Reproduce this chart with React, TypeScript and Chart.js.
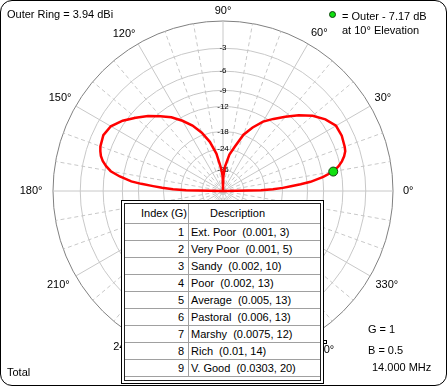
import React, { useEffect, useRef } from 'react';
import { Chart, registerables, RadialLinearScale } from 'chart.js';

Chart.register(...registerables);

// ARRL log radial scale: each 2 dB below the outer ring shrinks the radius by 0.89
class ArrlScale extends RadialLinearScale {
  static id = 'arrl';
  getDistanceFromCenterForValue(value: number) {
    if (value === null || value === undefined || isNaN(value)) return NaN;
    const att = Math.max(0, (this as any).max - value);
    return (this as any).drawingArea * Math.pow(0.89, att / 2);
  }
  getValueForDistanceFromCenter(distance: number) {
    if (!distance || distance <= 0) return (this as any).min;
    return (this as any).max + (2 * Math.log(distance / (this as any).drawingArea)) / Math.log(0.89) * -1;
  }
}
Chart.register(ArrlScale as any);

// ---- data ----
const outerRingDbi = 3.94;
const ringValues = [0, -3, -6, -9, -12, -18, -24, -36];
const angleLabelValues = [0, 30, 60, 90, 120, 150, 180, 210, 240, 270, 300, 330];

// elevation angle (deg) and field strength in dB relative to the outer ring
const elevations = [
  0, 1, 2, 3, 4, 5, 6, 8, 10, 12, 14, 16, 18, 20, 25, 30, 35, 40, 45, 50, 55, 60, 65, 70, 75, 80, 85, 88, 89, 90,
  91, 92, 95, 100, 105, 110, 115, 120, 125, 130, 135, 140, 145, 150, 155, 160, 162, 164, 166, 168, 170, 172, 174,
  175, 176, 177, 178, 179, 180,
];
const gainsDb = [
  -99, -25.7, -21.0, -17.9, -15.7, -13.4, -11.3, -8.9, -7.17, -6.27, -5.62, -5.14, -4.8, -4.67, -4.47, -4.54, -5.28,
  -6.41, -7.95, -9.63, -11.3, -12.9, -15.2, -17.9, -22.4, -26.2, -32.9, -40.6, -47.0, -99,
  -47.0, -40.6, -34.3, -25.7, -20.7, -17.3, -14.7, -12.7, -10.9, -9.54, -8.1, -6.86, -5.62, -4.67, -4.34, -4.54,
  -4.74, -5.0, -5.42, -6.05, -6.86, -8.4, -10.5, -12.5, -15.2, -17.6, -21.0, -26.2, -99,
];
const markerElevation = [10];
const markerGain = [-7.17];

const groundIndex = [1, 2, 3, 4, 5, 6, 7, 8, 9];
const groundDesc = [
  'Ext. Poor  (0.001, 3)',
  'Very Poor  (0.001, 5)',
  'Sandy  (0.002, 10)',
  'Poor  (0.002, 13)',
  'Average  (0.005, 13)',
  'Pastoral  (0.006, 13)',
  'Marshy  (0.0075, 12)',
  'Rich  (0.01, 14)',
  'V. Good  (0.0303, 20)',
];

// ---- radar index mapping (index 0 at top, clockwise, 1 deg per index) ----
const N = 360;
const elevOfIndex = (i: number) => (((90 - i) % 360) + 360) % 360;
const indexOfElev = (e: number) => (((90 - e) % 360) + 360) % 360;
const labels = Array.from({ length: N }, (_, i) => String(elevOfIndex(i)));

const patternData: (number | null)[] = new Array(N).fill(null);
elevations.forEach((e, k) => {
  patternData[indexOfElev(e)] = gainsDb[k];
});
const markerData: (number | null)[] = new Array(N).fill(null);
markerElevation.forEach((e, k) => {
  markerData[indexOfElev(e)] = markerGain[k];
});

const labelPad: Record<number, number> = {
  0: 6, 30: 1, 60: 2, 90: 0.5, 120: 1, 150: 1, 180: 6.5, 210: 3, 240: 0, 270: 4, 300: 3, 330: 2,
};

const FONT = '"Liberation Sans", Arial, sans-serif';

export default function App() {
  const ref = useRef<HTMLCanvasElement>(null);
  useEffect(() => {
    const chart = new Chart(ref.current as HTMLCanvasElement, {
      type: 'radar',
      data: {
        labels,
        datasets: [
          {
            label: 'marker',
            data: markerData as any,
            showLine: false,
            fill: false,
            pointRadius: 4.5,
            pointBackgroundColor: '#10e010',
            pointBorderColor: '#104010',
            pointBorderWidth: 1,
            spanGaps: true,
          } as any,
          {
            label: 'Total',
            data: patternData as any,
            fill: false,
            borderColor: '#ff0000',
            borderWidth: 2.5,
            pointRadius: 0,
            spanGaps: true,
            tension: 0,
          } as any,
        ],
      },
      options: {
        animation: false,
        responsive: false,
        maintainAspectRatio: false,
        layout: { padding: { top: 4, bottom: 4, left: 0, right: 0 } },
        plugins: { legend: { display: false }, tooltip: { enabled: false } },
        elements: { point: { hitRadius: 0, hoverRadius: 0 } },
        scales: {
          r: {
            type: 'arrl' as any,
            min: -100,
            max: 0,
            startAngle: 0,
            afterBuildTicks: (s: any) => {
              s.ticks = ringValues.map((v) => ({ value: v }));
            },
            ticks: {
              display: true,
              showLabelBackdrop: false,
              backdropPadding: 0,
              color: '#000',
              font: { family: FONT, size: 8 },
              callback: (v: any) => (v === 0 ? '' : String(v)),
            },
            grid: {
              circular: true,
              lineWidth: 1,
              color: (c: any) => (c.tick && c.tick.value === 0 ? '#808080' : '#c8c8c8'),
            },
            angleLines: {
              display: true,
              color: (c: any) => (elevOfIndex(c.index) % 10 === 0 ? '#c8c8c8' : ''),
              lineWidth: (c: any) => (elevOfIndex(c.index) % 10 === 0 ? 1 : 0),
              borderDash: (c: any) => (elevOfIndex(c.index) % 30 === 0 ? [] : [4, 3]),
            },
            pointLabels: {
              display: true,
              color: '#000',
              font: { family: FONT, size: 11, lineHeight: 1 },
              padding: (c: any) => labelPad[elevOfIndex(c.index)] ?? 0,
              callback: (lbl: string) => (angleLabelValues.includes(Number(lbl)) ? lbl + '°' : ''),
            },
          } as any,
        },
      },
    });
    return () => chart.destroy();
  }, []);

  const txt = (left: number, top: number, s: string, extra: any = {}) => (
    <div style={{ position: 'absolute', left, top, lineHeight: '13px', whiteSpace: 'pre', ...extra }}>{s}</div>
  );

  const rowH = 17;
  const headTop = 204;
  const headH = 19;

  return (
    <div
      style={{
        position: 'fixed',
        left: 0,
        top: 0,
        width: 447,
        height: 386,
        background: '#fff',
        overflow: 'hidden',
        fontFamily: FONT,
        fontSize: 11,
        color: '#000',
      }}
    >
      <canvas ref={ref} width={447} height={386} style={{ position: 'absolute', left: 0, top: 0 }} />
      {txt(7, 8, `Outer Ring = ${outerRingDbi.toFixed(2)} dBi`)}
      <div
        style={{
          position: 'absolute',
          left: 329,
          top: 11,
          width: 5,
          height: 5,
          borderRadius: '50%',
          background: '#10e010',
          border: '1px solid #104010',
        }}
      />
      {txt(342, 10, `= Outer - ${Math.abs(markerGain[0]).toFixed(2)} dB`)}
      {txt(342, 24, `at ${markerElevation[0]}° Elevation`)}
      {txt(368, 323, 'G = 1')}
      {txt(368, 344, 'B = 0.5')}
      {txt(372, 361, '14.000 MHz')}
      {txt(7, 366, 'Total')}

      {/* ground table */}
      <div
        style={{
          position: 'absolute',
          left: 121,
          top: 200,
          width: 203,
          height: 184,
          boxSizing: 'border-box',
          border: '1px solid #000',
          background: '#fff',
        }}
      />
      <div
        style={{
          position: 'absolute',
          left: 124,
          top: 203,
          width: 197,
          height: 178,
          boxSizing: 'border-box',
          border: '1px solid #202020',
          background: '#fff',
        }}
      />
      <div style={{ position: 'absolute', left: 188, top: 204, width: 1, height: headH + rowH * 9, background: '#a0a0a0' }} />
      {txt(141, headTop + 3, 'Index (G)')}
      {txt(210, headTop + 3, 'Description')}
      {[0, ...groundIndex].map((_, k) => (
        <div
          key={'l' + k}
          style={{ position: 'absolute', left: 125, top: headTop + headH + k * rowH, width: 195, height: 1, background: '#a0a0a0' }}
        />
      ))}
      {groundIndex.map((g, k) => (
        <React.Fragment key={'r' + k}>
          {txt(130, headTop + headH + k * rowH + 3, String(g), { width: 54, textAlign: 'right' })}
          {txt(191, headTop + headH + k * rowH + 3, groundDesc[k])}
        </React.Fragment>
      ))}
      <div
        style={{
          position: 'absolute',
          left: 323,
          top: 340,
          width: 4,
          height: 4,
          boxSizing: 'border-box',
          border: '1px solid #000',
          background: '#fff',
        }}
      />

      <div
        style={{
          position: 'absolute',
          left: 0,
          top: 0,
          width: 447,
          height: 386,
          boxSizing: 'border-box',
          border: '1px solid #000',
          borderRadius: 12,
          pointerEvents: 'none',
        }}
      />
    </div>
  );
}
